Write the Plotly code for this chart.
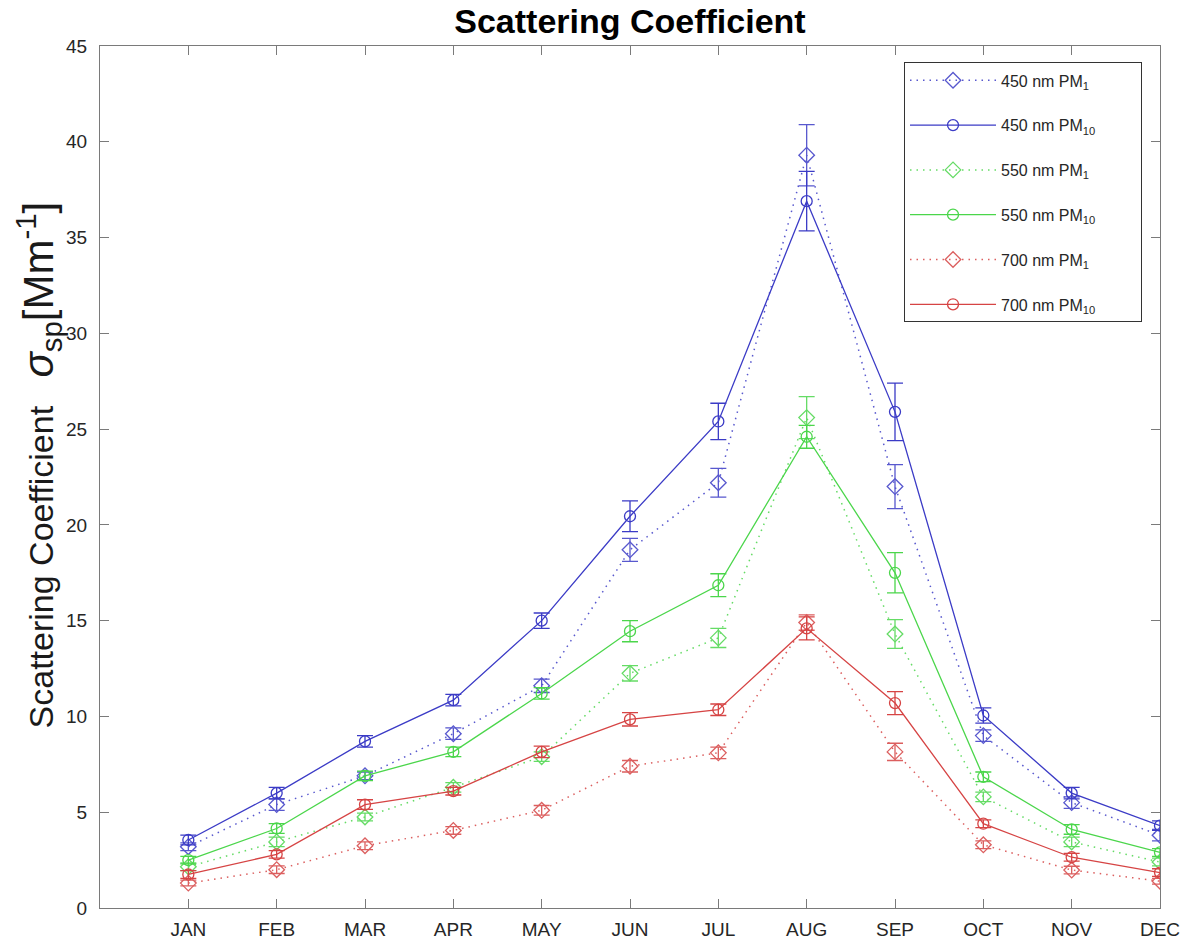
import plotly.graph_objects as go

months = ["JAN", "FEB", "MAR", "APR", "MAY", "JUN", "JUL", "AUG", "SEP", "OCT", "NOV", "DEC"]
month_pos = list(range(1, 13))

# Monthly mean scattering coefficient (Mm^-1) and error bar half-widths
b450_pm1 = [3.2, 5.4, 6.9, 9.1, 11.6, 18.7, 22.2, 39.3, 22.0, 9.0, 5.5, 3.8]
b450_pm1_err = [0.2, 0.3, 0.2, 0.3, 0.35, 0.6, 0.75, 1.6, 1.15, 0.3, 0.3, 0.3]
b450_pm10 = [3.55, 6.0, 8.7, 10.85, 15.0, 20.45, 25.4, 36.9, 25.9, 10.05, 6.0, 4.3]
b450_pm10_err = [0.25, 0.3, 0.3, 0.3, 0.4, 0.8, 0.95, 1.55, 1.5, 0.4, 0.3, 0.25]

b550_pm1 = [2.15, 3.45, 4.75, 6.3, 7.9, 12.25, 14.1, 25.6, 14.3, 5.8, 3.45, 2.4]
b550_pm1_err = [0.2, 0.25, 0.2, 0.25, 0.25, 0.4, 0.5, 1.1, 0.75, 0.25, 0.25, 0.2]
b550_pm10 = [2.5, 4.15, 6.9, 8.15, 11.2, 14.45, 16.85, 24.6, 17.5, 6.85, 4.1, 2.9]
b550_pm10_err = [0.2, 0.25, 0.25, 0.25, 0.3, 0.55, 0.6, 0.6, 1.05, 0.25, 0.25, 0.2]

b700_pm1 = [1.3, 2.0, 3.25, 4.05, 5.1, 7.4, 8.1, 14.9, 8.15, 3.3, 1.98, 1.4]
b700_pm1_err = [0.15, 0.2, 0.2, 0.2, 0.25, 0.3, 0.3, 0.4, 0.45, 0.2, 0.2, 0.15]
b700_pm10 = [1.75, 2.8, 5.4, 6.1, 8.15, 9.85, 10.35, 14.6, 10.7, 4.4, 2.65, 1.85]
b700_pm10_err = [0.2, 0.2, 0.25, 0.2, 0.3, 0.35, 0.3, 0.6, 0.6, 0.2, 0.2, 0.2]

# trailing no-break spaces give the legend box its extra width on the right
PAD = "\u00a0" * 9
names = ["450 nm PM<sub>1</sub>" + PAD, "450 nm PM<sub>10</sub>" + PAD,
         "550 nm PM<sub>1</sub>" + PAD, "550 nm PM<sub>10</sub>" + PAD,
         "700 nm PM<sub>1</sub>" + PAD, "700 nm PM<sub>10</sub>" + PAD]

BLUE = "#3b3bc6"
GREEN = "#4bd64b"
RED = "#d64444"

series = [
    (names[0], b450_pm1, b450_pm1_err, BLUE, "pm1"),
    (names[1], b450_pm10, b450_pm10_err, BLUE, "pm10"),
    (names[2], b550_pm1, b550_pm1_err, GREEN, "pm1"),
    (names[3], b550_pm10, b550_pm10_err, GREEN, "pm10"),
    (names[4], b700_pm1, b700_pm1_err, RED, "pm1"),
    (names[5], b700_pm10, b700_pm10_err, RED, "pm10"),
]

fig = go.Figure()
for i, (name, vals, errs, color, kind) in enumerate(series):
    dotted = kind == "pm1"
    fig.add_trace(go.Scatter(
        x=month_pos, y=vals, name=name, mode="lines+markers",
        legendgroup=f"g{i}",
        line=dict(color=color, width=1.5 if dotted else 1.3,
                  dash="1.5px,5px" if dotted else "solid"),
        opacity=0.85 if dotted else 1.0,
        marker=dict(symbol="diamond-open" if dotted else "circle-open",
                    size=12 if dotted else 11,
                    line=dict(color=color, width=1.3)),
        error_y=dict(type="data", array=errs, visible=True,
                     color=color, thickness=1.3, width=8),
    ))

AXIS_COLOR = "#7a7a7a"
FONT = "Liberation Sans, Arial, sans-serif"
fig.update_layout(
    width=1183, height=941,
    margin=dict(l=100, r=23, t=46, b=33),
    paper_bgcolor="white", plot_bgcolor="white",
    font=dict(family=FONT, color="#262626"),
    title=dict(text="<b>Scattering Coefficient</b>", x=0.5325, xanchor="center",
               yref="container", y=0.978, yanchor="middle",
               font=dict(size=34, color="black", family=FONT)),
    showlegend=True,
    legend=dict(x=0.7585, y=0.981, xanchor="left", yanchor="top",
                bgcolor="white", bordercolor="#333333", borderwidth=1,
                font=dict(size=16, color="#262626"),
                tracegroupgap=21, itemwidth=86),
)

fig.update_xaxes(
    range=[0, 12], tickmode="array", tickvals=month_pos, ticktext=months,
    ticks="inside", ticklen=9, tickcolor=AXIS_COLOR, tickwidth=1,
    showline=True, linecolor=AXIS_COLOR, linewidth=1, mirror="ticks",
    showgrid=False, zeroline=False, ticklabelstandoff=4, automargin=False,
    tickfont=dict(size=19, color="#262626"),
)
fig.update_yaxes(
    range=[0, 45], dtick=5, tick0=0,
    ticks="inside", ticklen=9, tickcolor=AXIS_COLOR, tickwidth=1,
    showline=True, linecolor=AXIS_COLOR, linewidth=1, mirror="ticks",
    showgrid=False, zeroline=False, ticklabelstandoff=8, automargin=False,
    tickfont=dict(size=19, color="#262626"),
)

fig.add_annotation(
    xref="paper", yref="paper", x=-0.058, y=0.514,
    xanchor="center", yanchor="middle", textangle=-90, showarrow=False,
    text=("Scattering Coefficient\u00a0\u00a0\u00a0"
          "<span style='font-size:42px'><i>σ</i><sub>sp</sub>[Mm<sup>-1</sup>]</span>"),
    font=dict(size=34, color="#1a1a1a", family=FONT),
)

fig.write_html("out.html")
